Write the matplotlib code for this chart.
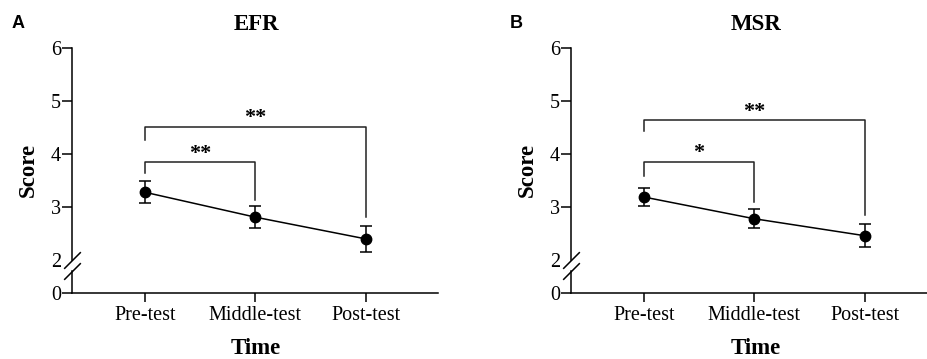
import numpy as np
import matplotlib
matplotlib.use("Agg")
import matplotlib.pyplot as plt
from matplotlib.transforms import blended_transform_factory

plt.rcParams["font.family"] = ["Liberation Serif", "DejaVu Serif"]

# data
times = ["Pre-test", "Middle-test", "Post-test"]
efr_mean = [3.28, 2.81, 2.40]
efr_err = [0.21, 0.21, 0.24]
msr_mean = [3.19, 2.78, 2.46]
msr_err = [0.17, 0.18, 0.22]

# significance brackets: (from, to, bar height, left leg end, right leg end, stars)
efr_sig = [(0, 1, 3.85, 3.64, 3.13, "**"), (0, 2, 4.52, 4.27, 2.82, "**")]
msr_sig = [(0, 1, 3.86, 3.59, 3.09, "*"), (0, 2, 4.64, 4.43, 2.85, "**")]

yticks = [0, 2, 3, 4, 5, 6]
LOW = 0.311  # squash factor for the 0-2 segment below the axis break


def fwd(y):
    y = np.asarray(y, dtype=float)
    return np.where(y < 2, y * LOW, 2 * LOW + (y - 2))


def inv(t):
    t = np.asarray(t, dtype=float)
    return np.where(t < 2 * LOW, t / LOW, t - 2 * LOW + 2)


def draw_panel(ax, mean, err, sig):
    x = np.arange(len(times))
    ax.set_yscale("function", functions=(fwd, inv))
    ax.errorbar(x, mean, yerr=err, fmt="o-", color="black", lw=1.1,
                ms=7.5, elinewidth=1.1, capsize=4, capthick=1.1, zorder=3)

    for a, b, h, la, lb, stars in sig:
        ax.plot([a, a, b, b], [la, h, h, lb], color="#222222", lw=1.1)
        ax.text((a + b) / 2, h + 0.06, stars, ha="center", va="baseline",
                fontsize=16, fontweight="bold")

    ax.set_xlim(-0.661, 2.652)
    ax.set_ylim(0, 6)
    ax.set_xticks(x)
    ax.set_xticklabels(times)
    ax.set_yticks(yticks)
    ax.set_yticklabels([str(t) for t in yticks])
    ax.tick_params(axis="y", length=7, width=1.1, pad=0.8, labelsize=14.5)
    ax.tick_params(axis="x", length=6.5, width=1.1, pad=3, labelsize=14.5)
    ax.yaxis.get_major_ticks()[1].tick1line.set_visible(False)

    for s in ["top", "right"]:
        ax.spines[s].set_visible(False)
    ax.spines["bottom"].set_linewidth(1.1)
    ax.spines["left"].set_linewidth(1.1)
    ax.spines["left"].set_bounds(2.0, 6)

    # lower piece of the broken y axis and the two break slashes
    tr = blended_transform_factory(ax.transAxes, ax.transData)
    ax.plot([0, 0], [0, 1.35], color="black", lw=1.1, transform=tr, clip_on=False)
    slash = [(-1, -1), (1, 1)]
    for yb in [2.0, 1.35]:
        ax.plot([0], [yb], marker=slash, ms=12, mew=1.1, color="black",
                transform=tr, clip_on=False)


fig = plt.figure(figsize=(9.28, 3.59), dpi=100)
ax1 = fig.add_axes([0.0776, 0.1838, 0.394, 0.682])
ax2 = fig.add_axes([0.6153, 0.1838, 0.394, 0.682])
draw_panel(ax1, efr_mean, efr_err, efr_sig)
draw_panel(ax2, msr_mean, msr_err, msr_sig)

for xc, title in [(256, "EFR"), (756, "MSR")]:
    fig.text(xc / 928, 1 - 25 / 359, title, ha="center", va="center",
             fontsize=16.5, fontweight="bold")
    fig.text(xc / 928, 1 - 348 / 359, "Time", ha="center", va="center",
             fontsize=16.5, fontweight="bold")
for xc in [28, 527]:
    fig.text(xc / 928, 1 - 170 / 359, "Score", ha="center", va="center",
             rotation=90, fontsize=16.5, fontweight="bold")
for xc, lab in [(18, "A"), (516, "B")]:
    fig.text(xc / 928, 1 - 23 / 359, lab, ha="center", va="center",
             fontsize=13, fontweight="bold", family="Liberation Sans")

fig.savefig("out.png", dpi=100)
